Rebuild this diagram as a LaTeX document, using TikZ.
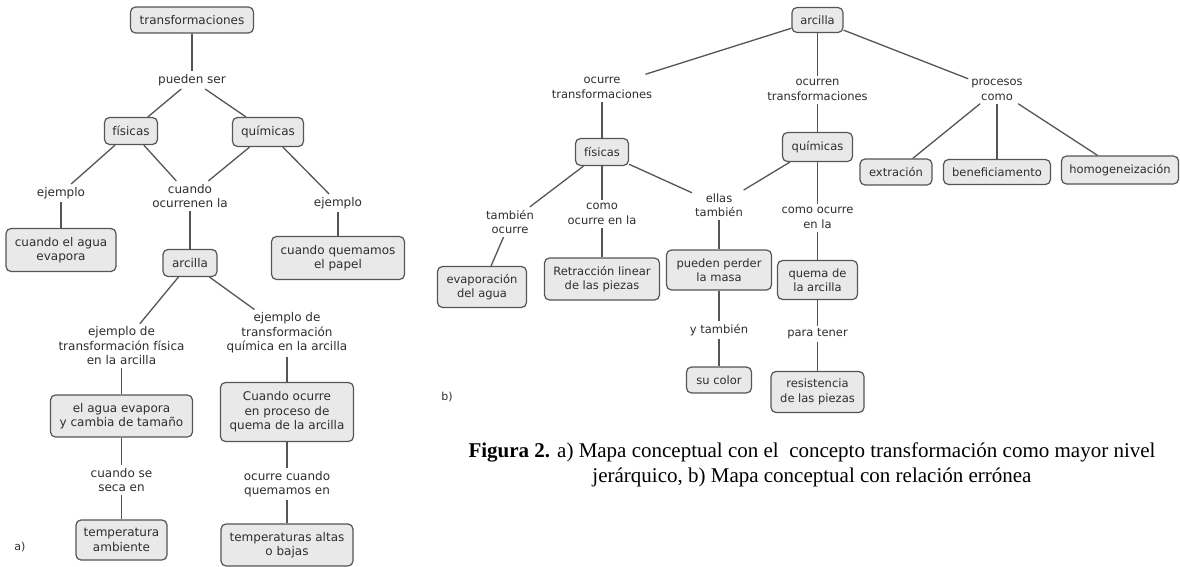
\documentclass[tikz,border=0pt]{standalone}
\usepackage{fontspec}
\newfontfamily\mapfont{DejaVu Sans}
\newfontfamily\capfont{Liberation Serif}
\definecolor{boxc}{HTML}{E9E9E9}
\definecolor{edgec}{HTML}{555555}
\definecolor{txtc}{HTML}{2E2E2E}
\tikzset{
  lfont/.style={font=\mapfont\fontsize{12}{14.5}\selectfont},
  rfont/.style={font=\mapfont\fontsize{11.5}{14.5}\selectfont},
  concept/.style={draw=edgec, fill=boxc, rounded corners=5pt, line width=1.2pt,
    align=center, inner xsep=3pt, inner ysep=2pt, text=txtc},
  linkl/.style={align=center, inner sep=3pt, text=txtc},
  conn/.style={draw=edgec, line width=1.3pt}
}
\begin{document}
\begin{tikzpicture}[x=1pt,y=-1pt]
\useasboundingbox[fill=white] (0,0) rectangle (1180,567);

% ---------- map a ----------
\begin{scope}[every node/.append style={lfont}]
\node[concept, minimum width=123, minimum height=26] (A1) at (192,20) {transformaciones};
\node[linkl] (L1) at (192,80) {pueden ser};
\node[concept, minimum width=53, minimum height=27] (A2) at (131,131) {físicas};
\node[concept, minimum width=71, minimum height=29] (A3) at (268,132) {químicas};
\node[linkl] (L2) at (61,193) {ejemplo};
\node[linkl] (L3) at (190,196) {cuando\\ocurrenen la};
\node[linkl] (L4) at (338,203) {ejemplo};
\node[concept, minimum width=110, minimum height=43] (A4) at (61,250) {cuando el agua\\evapora};
\node[concept, minimum width=54, minimum height=27] (A5) at (190,263) {arcilla};
\node[concept, minimum width=133, minimum height=43] (A6) at (338,258) {cuando quemamos\\el papel};
\node[linkl] (L5) at (121.5,346) {ejemplo de\\transformación física\\en la arcilla};
\node[linkl] (L6) at (287,333) {ejemplo de\\transformación\\química en la arcilla};
\node[concept, minimum width=142, minimum height=42] (A7) at (121.5,416) {el agua evapora\\y cambia de tamaño};
\node[concept, minimum width=133, minimum height=59] (A8) at (287,412) {Cuando ocurre\\en proceso de\\quema de la arcilla};
\node[linkl] (L7) at (121.5,480) {cuando se\\seca en};
\node[linkl] (L8) at (287,484) {ocurre cuando\\quemamos en};
\node[concept, minimum width=91, minimum height=40] (A9) at (121.5,540) {temperatura\\ambiente};
\node[concept, minimum width=132, minimum height=42] (A10) at (287,545) {temperaturas altas\\o bajas};
\node[text=txtc, font=\mapfont\fontsize{11}{13}\selectfont] (la) at (20,547) {a)};
\end{scope}

\draw[conn] (A1) -- (L1);
\draw[conn] (L1) -- (A2);
\draw[conn] (L1) -- (A3);
\draw[conn] (A2) -- (L2);
\draw[conn] (L2) -- (A4);
\draw[conn] (A2) -- (L3);
\draw[conn] (A3) -- (L3);
\draw[conn] (L3) -- (A5);
\draw[conn] (A3) -- (L4);
\draw[conn] (L4) -- (A6);
\draw[conn] (A5) -- (L5);
\draw[conn] (A5) -- (L6);
\draw[conn] (L5) -- (A7);
\draw[conn] (A7) -- (L7);
\draw[conn] (L7) -- (A9);
\draw[conn] (L6) -- (A8);
\draw[conn] (A8) -- (L8);
\draw[conn] (L8) -- (A10);

% ---------- map b ----------
\begin{scope}[every node/.append style={rfont}]
\node[concept, minimum width=51, minimum height=25] (B1) at (817.5,20) {arcilla};
\node[linkl] (R1) at (602,88) {ocurre\\transformaciones};
\node[linkl] (R2) at (817.5,90) {ocurren\\transformaciones};
\node[linkl] (R3) at (997,90) {procesos\\como};
\node[concept, minimum width=53, minimum height=27] (B2) at (602,152) {físicas};
\node[concept, minimum width=70, minimum height=29] (B3) at (817.5,147) {químicas};
\node[concept, minimum width=72, minimum height=26] (B4) at (896,172) {extración};
\node[concept, minimum width=107, minimum height=25] (B5) at (997,172) {beneficiamento};
\node[concept, minimum width=117, minimum height=28] (B6) at (1120,170) {homogeneización};
\node[linkl] (R4) at (510,222) {también\\ocurre};
\node[linkl] (R5) at (602,214) {como\\ocurre en la};
\node[linkl] (R6) at (719,205) {ellas\\también};
\node[linkl] (R8) at (817.5,218) {como ocurre\\en la};
\node[concept, minimum width=89, minimum height=41] (B7) at (482,287) {evaporación\\del agua};
\node[concept, minimum width=115, minimum height=42] (B8) at (602,279) {Retracción linear\\de las piezas};
\node[concept, minimum width=105, minimum height=40] (B9) at (719,270) {pueden perder\\la masa};
\node[concept, minimum width=80, minimum height=39] (B10) at (817.5,280) {quema de\\la arcilla};
\node[linkl] (R7) at (719,330) {y también};
\node[linkl] (R9) at (817.5,334) {para tener};
\node[concept, minimum width=65, minimum height=26] (B11) at (719,380) {su color};
\node[concept, minimum width=93, minimum height=41] (B12) at (817.5,392) {resistencia\\de las piezas};
\node[text=txtc, font=\mapfont\fontsize{11}{13}\selectfont] (lb) at (447,397) {b)};
\end{scope}

\draw[conn] (B1) -- (R1);
\draw[conn] (B1) -- (R2);
\draw[conn] (B1) -- (R3);
\draw[conn] (R1) -- (B2);
\draw[conn] (R2) -- (B3);
\draw[conn] (R3) -- (B4);
\draw[conn] (R3) -- (B5);
\draw[conn] (R3) -- (B6);
\draw[conn] (B2) -- (R4);
\draw[conn] (B2) -- (R5);
\draw[conn] (B2) -- (R6);
\draw[conn] ([xshift=8pt]B3.south west) -- (R6);
\draw[conn] (B3) -- (R8);
\draw[conn] (R4) -- (B7);
\draw[conn] (R5) -- (B8);
\draw[conn] (R6) -- (B9);
\draw[conn] (B9) -- (R7);
\draw[conn] (R7) -- (B11);
\draw[conn] (R8) -- (B10);
\draw[conn] (B10) -- (R9);
\draw[conn] (R9) -- (B12);

% ---------- caption ----------
\node[align=center, font=\capfont\fontsize{21}{25}\selectfont, inner sep=0pt] (cap) at (812,465)
  {\textbf{Figura 2.} a) Mapa conceptual con el\ \ concepto transformación como mayor nivel\\
   jerárquico, b) Mapa conceptual con relación errónea};
\end{tikzpicture}
\end{document}
